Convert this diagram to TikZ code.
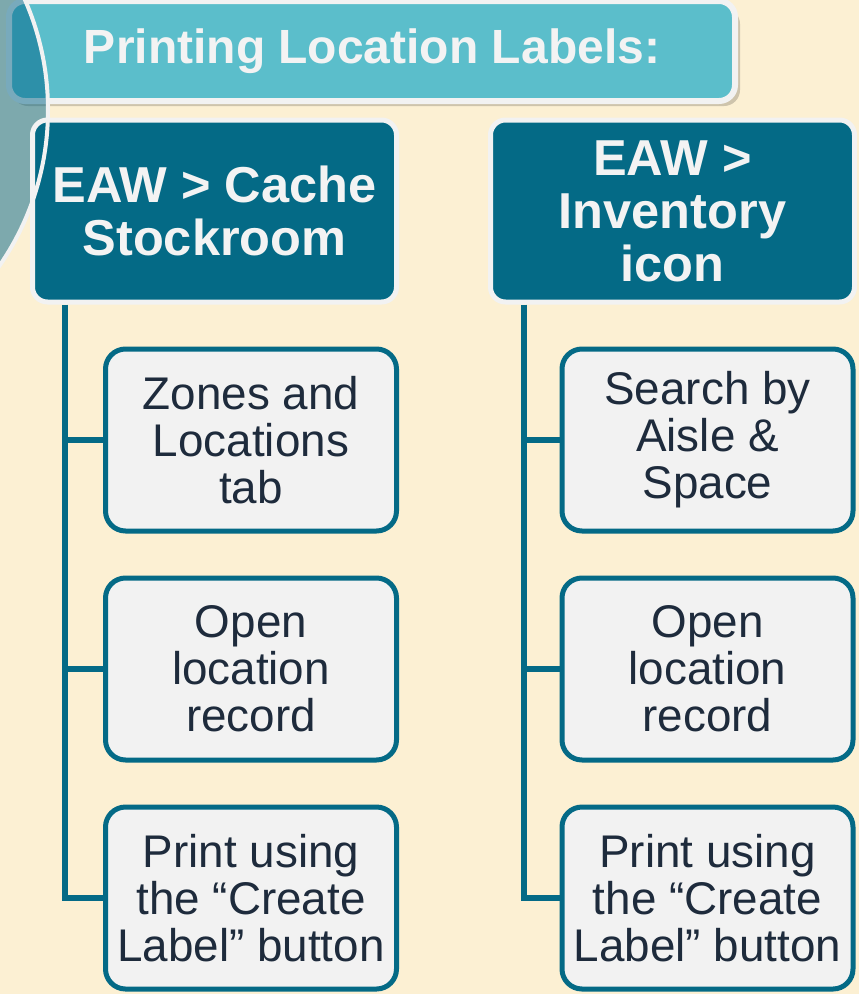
\documentclass[tikz,border=0pt]{standalone}
\usepackage{fontspec}
\setmainfont{Liberation Sans}

\definecolor{creambg}{HTML}{FCF0D3}
\definecolor{headteal}{HTML}{5BBECB}
\definecolor{deepteal}{HTML}{046A86}
\definecolor{swirlteal}{HTML}{006488}
\definecolor{itemgrey}{HTML}{F2F2F2}
\definecolor{inktext}{HTML}{1E2B3C}
\definecolor{paletext}{HTML}{F3F3F3}

\tikzset{
  headbox/.style={draw=itemgrey, line width=6pt, fill=headteal, rounded corners=16pt,
    minimum width=726pt, minimum height=100pt, inner sep=0pt,
    text=paletext, font=\fontsize{48}{55}\selectfont\bfseries},
  rootbox/.style={draw=itemgrey, line width=5pt, fill=deepteal, rounded corners=15pt,
    minimum width=364pt, minimum height=182pt, inner sep=0pt, align=center,
    text=paletext, font=\fontsize{50.5}{53}\selectfont\bfseries},
  itembox/.style={draw=deepteal, line width=5pt, fill=itemgrey, rounded corners=20pt,
    minimum width=291pt, minimum height=182pt, inner sep=0pt, align=center,
    text=inktext, font=\fontsize{45.8}{47}\selectfont},
  link/.style={draw=deepteal, line width=5.5pt}
}

\begin{document}
\begin{tikzpicture}[x=1pt, y=-1pt]

  % Canvas
  \useasboundingbox (0,0) rectangle (859,994);
  \fill[creambg] (0,0) rectangle (859,994);

  % Title bar
  \fill[black, opacity=0.18, rounded corners=16pt] (12,8) rectangle (740,106);
  \node[headbox] (title) at (372,51) {Printing Location Labels:};

  % Swirl on the left edge
  \fill[swirlteal, opacity=0.5] (-226,110) circle (274pt);

  % Column heads
  \node[rootbox] (rootL) at (214.5,211) {EAW > Cache\\Stockroom};
  \node[rootbox] (rootR) at (672.5,211) {EAW >\\Inventory\\icon};

  % Steps - cache stockroom
  \node[itembox] (itemL1) at (251,440) {Zones and\\Locations\\tab};
  \node[itembox] (itemL2) at (251,669) {Open\\location\\record};
  \node[itembox] (itemL3) at (251,898) {Print using\\the “Create\\Label” button};

  % Steps - inventory icon
  \node[itembox] (itemR1) at (707.5,440) {Search by\\Aisle \&\\Space};
  \node[itembox] (itemR2) at (707.5,669) {Open\\location\\record};
  \node[itembox] (itemR3) at (707.5,898) {Print using\\the “Create\\Label” button};

  % Connectors
  \coordinate (trunkL) at ([xshift=35pt]rootL.south west);
  \coordinate (trunkR) at ([xshift=36pt]rootR.south west);
  \draw[link] (trunkL) |- (itemL3.west);
  \draw[link] (trunkL |- itemL1.west) -- (itemL1.west);
  \draw[link] (trunkL |- itemL2.west) -- (itemL2.west);
  \draw[link] (trunkR) |- (itemR3.west);
  \draw[link] (trunkR |- itemR1.west) -- (itemR1.west);
  \draw[link] (trunkR |- itemR2.west) -- (itemR2.west);

  % Swirl outline
  \draw[itemgrey, line width=4pt] (-226,110) circle (274pt);

\end{tikzpicture}
\end{document}
